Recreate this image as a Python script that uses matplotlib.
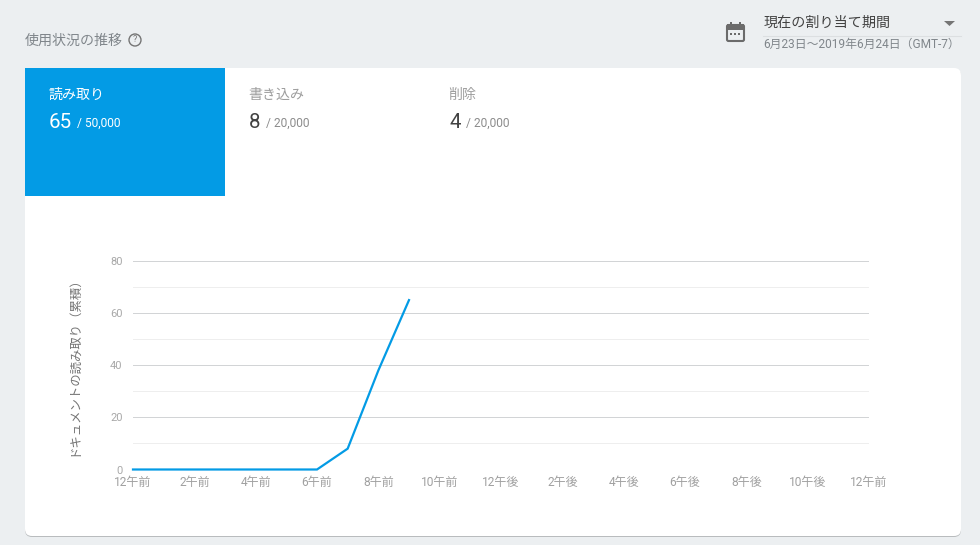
import matplotlib
matplotlib.use("Agg")
import matplotlib.pyplot as plt
from matplotlib.patches import FancyBboxPatch, Rectangle, Circle, Polygon

plt.rcParams["font.family"] = ["Roboto", "Noto Sans CJK JP", "DejaVu Sans"]

# Chart data
hours = [0, 1, 2, 3, 4, 5, 6, 7, 8, 9]
reads = [0, 0, 0, 0, 0, 0, 0, 8, 38, 65]
x_ticks = [0, 2, 4, 6, 8, 10, 12, 14, 16, 18, 20, 22, 24]
x_labels = ["12午前", "2午前", "4午前", "6午前", "8午前", "10午前", "12午後",
            "2午後", "4午後", "6午後", "8午後", "10午後", "12午前"]
y_major = [0, 20, 40, 60, 80]
y_minor = [10, 30, 50, 70]
y_title = "ドキュメントの読み取り（累積）"

# Summary tabs
tab_names = ["読み取り", "書き込み", "削除"]
tab_values = ["65", "8", "4"]
tab_limits = ["/ 50,000", "/ 20,000", "/ 20,000"]

BLUE = "#039be5"
PAGE = "#eceff1"
W, H = 980, 545


def px(size):
    # Font size in pixels to points at dpi 100.
    return size * 0.72


def draw_page(bg):
    # Card, header texts and the small icons, in pixel coordinates.
    bg.set_xlim(0, W)
    bg.set_ylim(H, 0)
    bg.axis("off")

    bg.add_patch(FancyBboxPatch((25, 69), 936, 468, boxstyle="round,pad=0,rounding_size=7",
                                fc="#b9bcbe", ec="none"))
    bg.add_patch(FancyBboxPatch((25, 68), 936, 468, boxstyle="round,pad=0,rounding_size=7",
                                fc="white", ec="none"))
    bg.add_patch(Rectangle((25, 68), 200, 128, fc=BLUE, ec="none"))

    bg.text(25, 40.5, "使用状況の推移", fontsize=px(14), color="#80868b", va="center")
    bg.add_patch(Circle((135, 40), 6, fc="none", ec="#757575", lw=1))
    bg.text(135, 40, "?", fontsize=px(9), color="#757575", ha="center", va="center")

    # calendar icon
    bg.add_patch(FancyBboxPatch((727, 25), 17, 16, boxstyle="round,pad=0,rounding_size=1.5",
                                fc="none", ec="#6b6b6b", lw=1.5))
    bg.add_patch(Rectangle((727, 24), 17, 6, fc="#6b6b6b", ec="none"))
    bg.add_patch(Rectangle((730, 22), 2, 3, fc="#6b6b6b", ec="none"))
    bg.add_patch(Rectangle((739, 22), 2, 3, fc="#6b6b6b", ec="none"))
    for dot_x in [731, 735, 739]:
        bg.add_patch(Rectangle((dot_x - 1, 33), 2, 2, fc="#6b6b6b", ec="none"))

    bg.text(763.5, 22.5, "現在の割り当て期間", fontsize=px(14.1), color="#424242", va="center")
    bg.text(763.5, 44, "6月23日～2019年6月24日（GMT-7）", fontsize=px(11.9), color="#80868b", va="center")
    bg.plot([763, 961], [35.5, 35.5], color="#dcdfe1", lw=0.8)
    bg.add_patch(Polygon([[944, 21], [955, 21], [949.5, 26]], fc="#757575", ec="none"))

    for i in range(3):
        left = 49 + 200 * i
        selected = i == 0
        bg.text(left - 1, 94.5, tab_names[i], fontsize=px(14), va="center",
                color="white" if selected else "#9e9e9e")
        value = bg.text(left, 122, tab_values[i], fontsize=px(20.5), va="center",
                        color="white" if selected else "#424242")
        bg.figure.canvas.draw()
        box = value.get_window_extent()
        bg.text(box.x1 + 5, 123, tab_limits[i], fontsize=px(12), va="center",
                color="white" if selected else "#8c8c8c")


def draw_chart(ax):
    ax.plot(hours, reads, color=BLUE, lw=1.6, solid_joinstyle="miter", clip_on=False, zorder=3)
    ax.set_xlim(0, 24)
    ax.set_ylim(0, 80)

    ax.set_xticks(x_ticks)
    ax.set_xticklabels(x_labels, fontsize=px(12), color="#a0a0a0")
    ax.set_yticks(y_major)
    ax.set_yticklabels([str(v) for v in y_major], fontsize=px(11), color="#a8a8a8")
    ax.set_yticks(y_minor, minor=True)
    ax.tick_params(axis="both", which="both", length=0)
    ax.tick_params(axis="x", pad=5)
    ax.tick_params(axis="y", pad=7.5)

    ax.grid(axis="y", which="major", color="#d2d4d6", lw=0.72)
    ax.grid(axis="y", which="minor", color="#eeeeee", lw=0.72)
    ax.set_axisbelow(True)
    for spine in ax.spines.values():
        spine.set_visible(False)
    ax.patch.set_alpha(0)

    ax.set_ylabel(y_title, fontsize=px(12.4), color="#757575")
    ax.yaxis.set_label_coords(-53 / 736, 0.512)


def main():
    fig = plt.figure(figsize=(W / 100, H / 100), dpi=100, facecolor=PAGE)

    bg = fig.add_axes([0, 0, 1, 1])
    draw_page(bg)

    # plot area runs x 133-869 and y 261-469.5 in pixels
    ax = fig.add_axes([133 / W, 1 - 469.5 / H, 736 / W, 208.5 / H])
    draw_chart(ax)

    fig.savefig("out.png", dpi=100, facecolor=PAGE)


if __name__ == "__main__":
    main()
